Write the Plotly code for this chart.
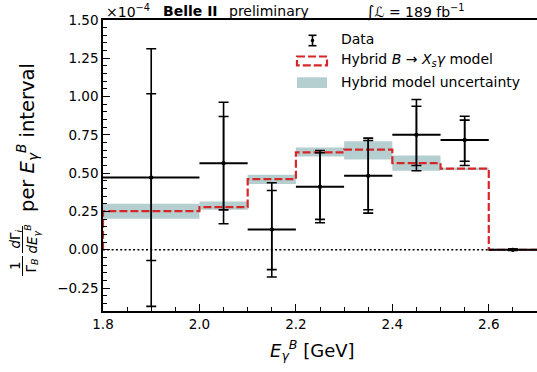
import plotly.graph_objects as go

# ---------------- data ----------------
bin_lo = [1.8, 2.0, 2.1, 2.2, 2.3, 2.4, 2.5, 2.6]
bin_hi = [2.0, 2.1, 2.2, 2.3, 2.4, 2.5, 2.6, 2.7]
data_val = [0.472, 0.565, 0.132, 0.411, 0.483, 0.751, 0.716, 0.0]
stat_hi = [1.018, 0.870, 0.387, 0.633, 0.713, 0.937, 0.846, 0.003]
stat_lo = [-0.070, 0.260, -0.130, 0.198, 0.261, 0.550, 0.578, -0.003]
tot_hi = [1.312, 0.963, 0.437, 0.648, 0.729, 0.981, 0.872, 0.005]
tot_lo = [-0.370, 0.170, -0.178, 0.176, 0.239, 0.516, 0.550, -0.005]

model_val = [0.252, 0.278, 0.461, 0.636, 0.653, 0.566, 0.529, 0.0]
band_lo = [0.202, 0.261, 0.430, 0.609, 0.589, 0.516, 0.523, 0.0]
band_hi = [0.300, 0.315, 0.490, 0.667, 0.709, 0.616, 0.535, 0.0]

x_ticks = [1.8, 2.0, 2.2, 2.4, 2.6]
y_ticks = [-0.25, 0.0, 0.25, 0.5, 0.75, 1.0, 1.25, 1.5]

# ---------------- derived ----------------
centers = [(a + b) / 2 for a, b in zip(bin_lo, bin_hi)]
half_w = [(b - a) / 2 for a, b in zip(bin_lo, bin_hi)]
widths = [b - a for a, b in zip(bin_lo, bin_hi)]

RED = "#d62728"
BAND = "#b5cfd1"
FONT = "DejaVu Sans"

fig = go.Figure()

# uncertainty band (bars with base)
fig.add_trace(go.Bar(
    x=centers, y=[h - l for h, l in zip(band_hi, band_lo)], base=band_lo,
    width=widths, marker=dict(color=BAND, line=dict(width=0)),
    showlegend=False, hoverinfo="skip"))

# model step line
step_x = [bin_lo[0], bin_lo[0]] + list(bin_lo[1:]) + [bin_hi[-1]]
step_y = [0.0] + list(model_val) + [model_val[-1]]
fig.add_trace(go.Scatter(
    x=step_x, y=step_y, mode="lines", line_shape="hv",
    line=dict(color=RED, width=2.2, dash="8px,3px"),
    showlegend=False, hoverinfo="skip"))

# data: total errors
fig.add_trace(go.Scatter(
    x=centers, y=data_val, mode="markers",
    marker=dict(color="black", size=4),
    error_x=dict(type="data", array=half_w, color="black", thickness=2, width=0),
    error_y=dict(type="data", symmetric=False,
                 array=[h - v for h, v in zip(tot_hi, data_val)],
                 arrayminus=[v - l for v, l in zip(data_val, tot_lo)],
                 color="black", thickness=1.6, width=5),
    showlegend=False, hoverinfo="skip"))
# data: stat errors
fig.add_trace(go.Scatter(
    x=centers, y=data_val, mode="markers",
    marker=dict(color="black", size=4),
    error_y=dict(type="data", symmetric=False,
                 array=[h - v for h, v in zip(stat_hi, data_val)],
                 arrayminus=[v - l for v, l in zip(data_val, stat_lo)],
                 color="black", thickness=1.6, width=5),
    showlegend=False, hoverinfo="skip"))

# ---------------- layout geometry ----------------
WIDTH, HEIGHT = 537, 372
L, R, T, B = 103, 537, 20, 311
PW, PH = R - L, B - T


def px(x):
    return (x - L) / PW


def py(y):
    return (B - y) / PH


shapes = []
# zero dotted line
shapes.append(dict(type="line", xref="paper", yref="y", x0=0, x1=1, y0=0, y1=0,
                   line=dict(color="black", width=1.5, dash="2px,2.3px"), layer="below"))

# legend glyphs
shapes.append(dict(type="line", xref="paper", yref="paper", x0=px(312.5), x1=px(312.5),
                   y0=py(35.3), y1=py(45.7), line=dict(color="black", width=1.6)))
for yy in (35.3, 45.7):
    shapes.append(dict(type="line", xref="paper", yref="paper", x0=px(308.5), x1=px(316.5),
                       y0=py(yy), y1=py(yy), line=dict(color="black", width=1.6)))
shapes.append(dict(type="circle", xref="paper", yref="paper", x0=px(310.8), x1=px(314.2),
                   y0=py(38.8), y1=py(42.2), fillcolor="black", line=dict(width=0)))
shapes.append(dict(type="rect", xref="paper", yref="paper", x0=px(297), x1=px(327),
                   y0=py(56.5), y1=py(65.3), line=dict(color=RED, width=2.2, dash="8px,3px")))
shapes.append(dict(type="rect", xref="paper", yref="paper", x0=px(297), x1=px(327),
                   y0=py(77.3), y1=py(88), fillcolor=BAND, line=dict(width=0)))
# y-label fraction bars
shapes.append(dict(type="line", xref="paper", yref="paper", x0=px(22.5), x1=px(22.5),
                   y0=py(256), y1=py(276), line=dict(color="black", width=1)))
shapes.append(dict(type="line", xref="paper", yref="paper", x0=px(22.5), x1=px(22.5),
                   y0=py(226), y1=py(253), line=dict(color="black", width=1)))

ann = []


def text(x, y, s, size=14, xanchor="left", yanchor="middle", angle=0):
    ann.append(dict(xref="paper", yref="paper", x=px(x), y=py(y), text=s,
                    showarrow=False, xanchor=xanchor, yanchor=yanchor, textangle=angle,
                    font=dict(family=FONT, size=size, color="black")))


# header
text(104, 11, "×10<sup>−4</sup>", 14)
text(161, 11, "<b>Belle II</b>", 14)
text(227, 11, "preliminary", 14)
text(364, 11.5, "<span style='font-size:16px'>∫</span><i>ℒ</i> = 189 fb<sup>−1</sup>", 14)

# legend texts
text(339, 38.5, "Data", 14)
text(339, 60.5, "Hybrid <i>B</i> → <i>X<sub>s</sub>γ</i> model", 14)
text(339, 82, "Hybrid model uncertainty", 14)

# x title
text(312, 350, "<i>E</i><sub><i>γ</i></sub><sup><i>B</i></sup> [GeV]", 18, xanchor="center")

# y title pieces (rotated)
text(27, 138, "per <i>E</i><sub><i>γ</i></sub><sup><i>B</i></sup> interval", 19.5,
     xanchor="center", angle=-90)
text(15, 266, "1", 13.5, xanchor="center", angle=-90)
text(31.5, 266, "Γ<sub><i>B</i></sub>", 13.5, xanchor="center", angle=-90)
text(15, 239.5, "<i>d</i>Γ<sub><i>i</i></sub>", 13.5, xanchor="center", angle=-90)
text(32, 239.5, "<i>dE</i><sub><i>γ</i></sub><sup><i>B</i></sup>", 13.5, xanchor="center", angle=-90)

fig.update_layout(
    width=WIDTH, height=HEIGHT,
    margin=dict(l=L, r=WIDTH - R, t=T, b=HEIGHT - B, pad=0),
    plot_bgcolor="white", paper_bgcolor="white",
    font=dict(family=FONT, size=13.5, color="black"),
    showlegend=False, barmode="overlay",
    shapes=shapes, annotations=ann,
    xaxis=dict(range=[1.8, 2.7], tickvals=x_ticks, ticktext=[f"{v:.1f}" for v in x_ticks],
               ticks="inside", ticklen=7, tickwidth=1.2, tickcolor="black",
               showline=True, linecolor="black", linewidth=1.5, mirror=True,
               showgrid=False, zeroline=False,
               minor=dict(dtick=0.05, tick0=1.8, ticks="inside", ticklen=4, tickwidth=1,
                          tickcolor="black", showgrid=False)),
    yaxis=dict(range=[-0.4, 1.5], tickvals=y_ticks,
               ticktext=[("−" if v < 0 else "") + f"{abs(v):.2f}" for v in y_ticks],
               ticks="inside", ticklen=7, tickwidth=1.2, tickcolor="black",
               showline=True, linecolor="black", linewidth=1.5,
               showgrid=False, zeroline=False,
               minor=dict(dtick=0.05, tick0=0, ticks="inside", ticklen=4, tickwidth=1,
                          tickcolor="black", showgrid=False)),
)

fig.write_html("out.html", config={"displayModeBar": False},
               post_script="document.body.style.margin='0px';document.body.style.padding='0px';")
